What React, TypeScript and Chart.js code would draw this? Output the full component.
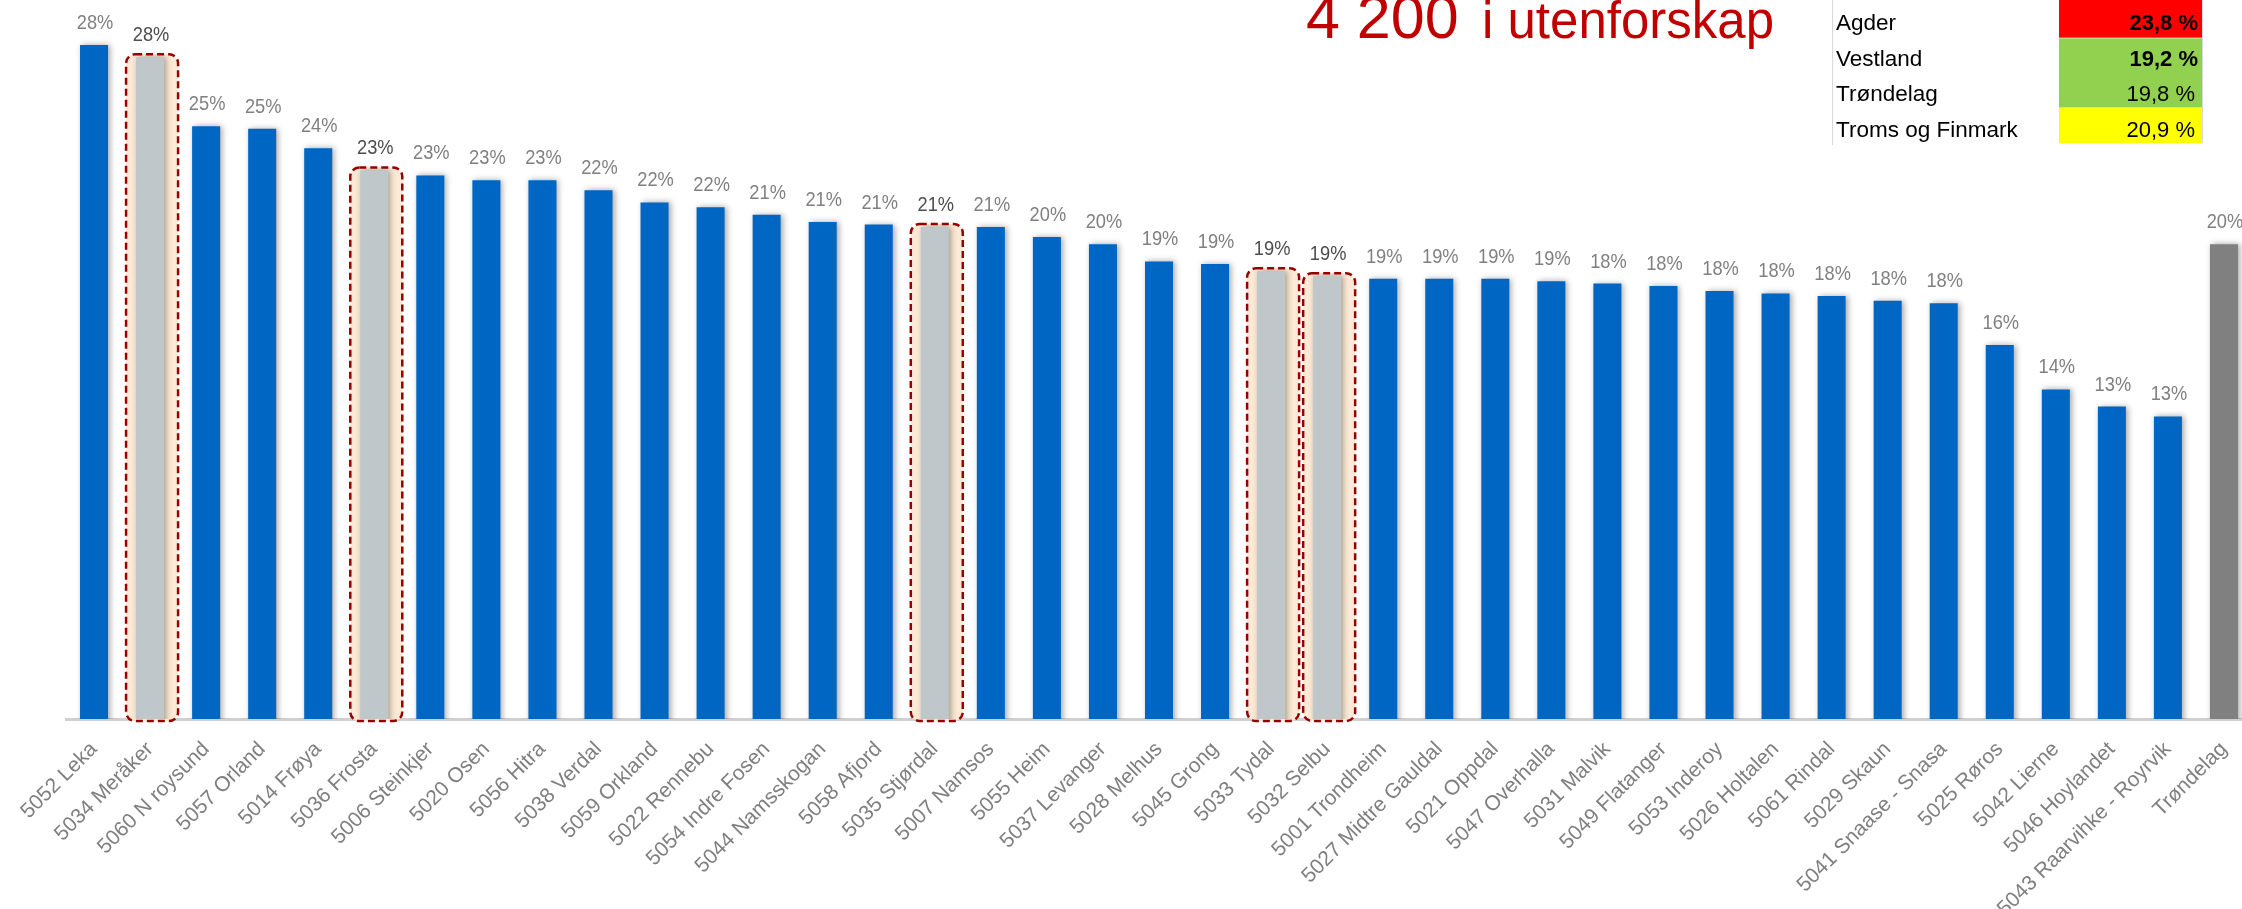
import React, { useEffect, useRef } from 'react';
import { Chart, registerables } from 'chart.js';

Chart.register(...registerables);

const FONT = "'Liberation Sans', Arial, sans-serif";

const categories: string[] = [
  '5052 Leka', '5034 Meråker', '5060 N roysund', '5057 Orland', '5014 Frøya',
  '5036 Frosta', '5006 Steinkjer', '5020 Osen', '5056 Hitra', '5038 Verdal',
  '5059 Orkland', '5022 Rennebu', '5054 Indre Fosen', '5044 Namsskogan', '5058 Afjord',
  '5035 Stjørdal', '5007 Namsos', '5055 Heim', '5037 Levanger', '5028 Melhus',
  '5045 Grong', '5033 Tydal', '5032 Selbu', '5001 Trondheim', '5027 Midtre Gauldal',
  '5021 Oppdal', '5047 Overhalla', '5031 Malvik', '5049 Flatanger', '5053 Inderoy',
  '5026 Holtalen', '5061 Rindal', '5029 Skaun', '5041 Snaase - Snasa', '5025 Røros',
  '5042 Lierne', '5046 Hoylandet', '5043 Raarvihke - Royrvik', 'Trøndelag',
];

const values: number[] = [
  28.1, 27.6, 24.8, 24.7, 23.9,
  23.0, 22.8, 22.6, 22.6, 22.2,
  21.7, 21.5, 21.2, 20.9, 20.8,
  20.7, 20.7, 20.3, 20.0, 19.3,
  19.2, 18.9, 18.7, 18.6, 18.6,
  18.6, 18.5, 18.4, 18.3, 18.1,
  18.0, 17.9, 17.7, 17.6, 15.9,
  14.1, 13.4, 13.0, 20.0,
];

const highlighted: number[] = [1, 5, 15, 21, 22];
const totalIndex = 38;

const titleBig = '4 200';
const titleRest = 'i utenforskap';

const tableNames: string[] = ['Agder', 'Vestland', 'Trøndelag', 'Troms og Finmark'];
const tableValues: string[] = ['23,8 %', '19,2 %', '19,8 %', '20,9 %'];
const tableBold: boolean[] = [true, true, false, false];

const yMin = 0.7;
const yMax = 29.93;

const BLUE = '#0066C4';
const GREY_BAR = '#BFC7CA';
const TOTAL_BAR = '#808080';

const barColors = values.map((_, i) =>
  i === totalIndex ? TOTAL_BAR : highlighted.includes(i) ? GREY_BAR : BLUE
);

const roundRectPath = (ctx: CanvasRenderingContext2D, x: number, y: number, w: number, h: number, r: number) => {
  ctx.beginPath();
  ctx.moveTo(x + r, y);
  ctx.lineTo(x + w - r, y);
  ctx.arcTo(x + w, y, x + w, y + r, r);
  ctx.lineTo(x + w, y + h - r);
  ctx.arcTo(x + w, y + h, x + w - r, y + h, r);
  ctx.lineTo(x + r, y + h);
  ctx.arcTo(x, y + h, x, y + h - r, r);
  ctx.lineTo(x, y + r);
  ctx.arcTo(x, y, x + r, y, r);
  ctx.closePath();
};

const boxGeom = (chart: any, i: number) => {
  const bar = chart.getDatasetMeta(0).data[i] as any;
  const w = 52;
  const x = bar.x + 2 - w / 2;
  const top = bar.y - 3;
  const bottom = chart.chartArea.bottom + 2;
  return { x, y: top, w, h: bottom - top };
};

const highlightPlugin = {
  id: 'highlightBoxes',
  beforeDatasetsDraw(chart: any) {
    const ctx = chart.ctx as CanvasRenderingContext2D;
    ctx.save();
    highlighted.forEach((i) => {
      const g = boxGeom(chart, i);
      roundRectPath(ctx, g.x, g.y, g.w, g.h, 9);
      ctx.fillStyle = '#FCEAD6';
      ctx.fill();
    });
    ctx.restore();
  },
  afterDatasetsDraw(chart: any) {
    const ctx = chart.ctx as CanvasRenderingContext2D;
    ctx.save();
    ctx.setLineDash([7, 4]);
    ctx.lineWidth = 2.5;
    ctx.strokeStyle = '#960000';
    highlighted.forEach((i) => {
      const g = boxGeom(chart, i);
      roundRectPath(ctx, g.x, g.y, g.w, g.h, 9);
      ctx.stroke();
    });
    ctx.restore();
  },
};

const shadowPlugin = {
  id: 'barShadow',
  beforeDatasetDraw(chart: any) {
    const ctx = chart.ctx as CanvasRenderingContext2D;
    ctx.save();
    ctx.shadowColor = 'rgba(0,0,0,0.35)';
    ctx.shadowBlur = 6;
    ctx.shadowOffsetX = 2;
    ctx.shadowOffsetY = 0;
  },
  afterDatasetDraw(chart: any) {
    chart.ctx.restore();
  },
};

const valueLabelPlugin = {
  id: 'valueLabels',
  afterDatasetsDraw(chart: any) {
    const ctx = chart.ctx as CanvasRenderingContext2D;
    const meta = chart.getDatasetMeta(0);
    meta.data.forEach((bar: any, i: number) => {
      ctx.save();
      ctx.translate(bar.x + 1, bar.y - 16);
      ctx.scale(0.87, 1);
      ctx.font = `21px ${FONT}`;
      ctx.textAlign = 'center';
      ctx.textBaseline = 'alphabetic';
      ctx.fillStyle = highlighted.includes(i) ? '#4D4D4D' : '#808080';
      ctx.fillText(`${Math.round(values[i])}%`, 0, 0);
      ctx.restore();
    });
  },
};

const overlayPlugin = {
  id: 'overlay',
  afterDraw(chart: any) {
    const ctx = chart.ctx as CanvasRenderingContext2D;
    ctx.save();
    // Title
    ctx.fillStyle = '#C00000';
    ctx.textBaseline = 'alphabetic';
    ctx.textAlign = 'left';
    ctx.font = `61px ${FONT}`;
    ctx.fillText(titleBig, 1306, 38);
    ctx.font = `51px ${FONT}`;
    ctx.fillText(titleRest, 1482, 38);

    // Table cells
    const cellX = 2059;
    const cellW = 143;
    ctx.fillStyle = '#FF0000';
    ctx.fillRect(cellX, 0, cellW, 37.7);
    ctx.fillStyle = '#92D050';
    ctx.fillRect(cellX, 38.3, cellW, 69.2);
    ctx.fillStyle = '#FFFF00';
    ctx.fillRect(cellX, 108, cellW, 35);

    ctx.strokeStyle = '#D9D9D9';
    ctx.lineWidth = 1;
    ctx.beginPath();
    ctx.moveTo(1832.5, 0);
    ctx.lineTo(1832.5, 145);
    ctx.moveTo(2202.5, 0);
    ctx.lineTo(2202.5, 143);
    ctx.stroke();

    const baselines = [30, 65.7, 101, 136.5];
    ctx.fillStyle = '#000000';
    tableNames.forEach((n, i) => {
      ctx.textAlign = 'left';
      ctx.font = `22.5px ${FONT}`;
      ctx.fillText(n, 1836, baselines[i]);
      ctx.textAlign = 'right';
      ctx.font = `${tableBold[i] ? 'bold ' : ''}22px ${FONT}`;
      ctx.fillText(tableValues[i], tableBold[i] ? 2198 : 2195, baselines[i]);
    });
    ctx.restore();
  },
};

export default function App() {
  const canvasRef = useRef<HTMLCanvasElement | null>(null);

  useEffect(() => {
    if (!canvasRef.current) return;
    const chart = new Chart(canvasRef.current, {
      type: 'bar',
      data: {
        labels: categories,
        datasets: [
          {
            data: values,
            backgroundColor: barColors,
            borderWidth: 0,
            barPercentage: 0.5,
            categoryPercentage: 1.0,
          },
        ],
      },
      options: {
        responsive: false,
        animation: false,
        layout: { padding: { left: 66, right: 8, top: 0, bottom: 0 } },
        plugins: {
          legend: { display: false },
          tooltip: { enabled: false },
          title: { display: false },
        },
        scales: {
          x: {
            grid: { display: false, drawTicks: false },
            border: { display: true, color: '#D0D0D0', width: 3 },
            ticks: {
              autoSkip: false,
              maxRotation: 45,
              minRotation: 45,
              padding: 18,
              color: '#7F7F7F',
              font: { family: FONT, size: 21 },
            },
            afterFit: (scale: any) => {
              scale.height = 190;
            },
          },
          y: {
            display: false,
            min: yMin,
            max: yMax,
          },
        },
      },
      plugins: [highlightPlugin, shadowPlugin, valueLabelPlugin, overlayPlugin],
    });
    return () => chart.destroy();
  }, []);

  return (
    <div
      style={{
        position: 'fixed',
        left: 0,
        top: 0,
        width: 2242,
        height: 909,
        overflow: 'hidden',
        background: '#FFFFFF',
      }}
    >
      <canvas ref={canvasRef} width={2260} height={909} style={{ display: 'block' }} />
    </div>
  );
}
